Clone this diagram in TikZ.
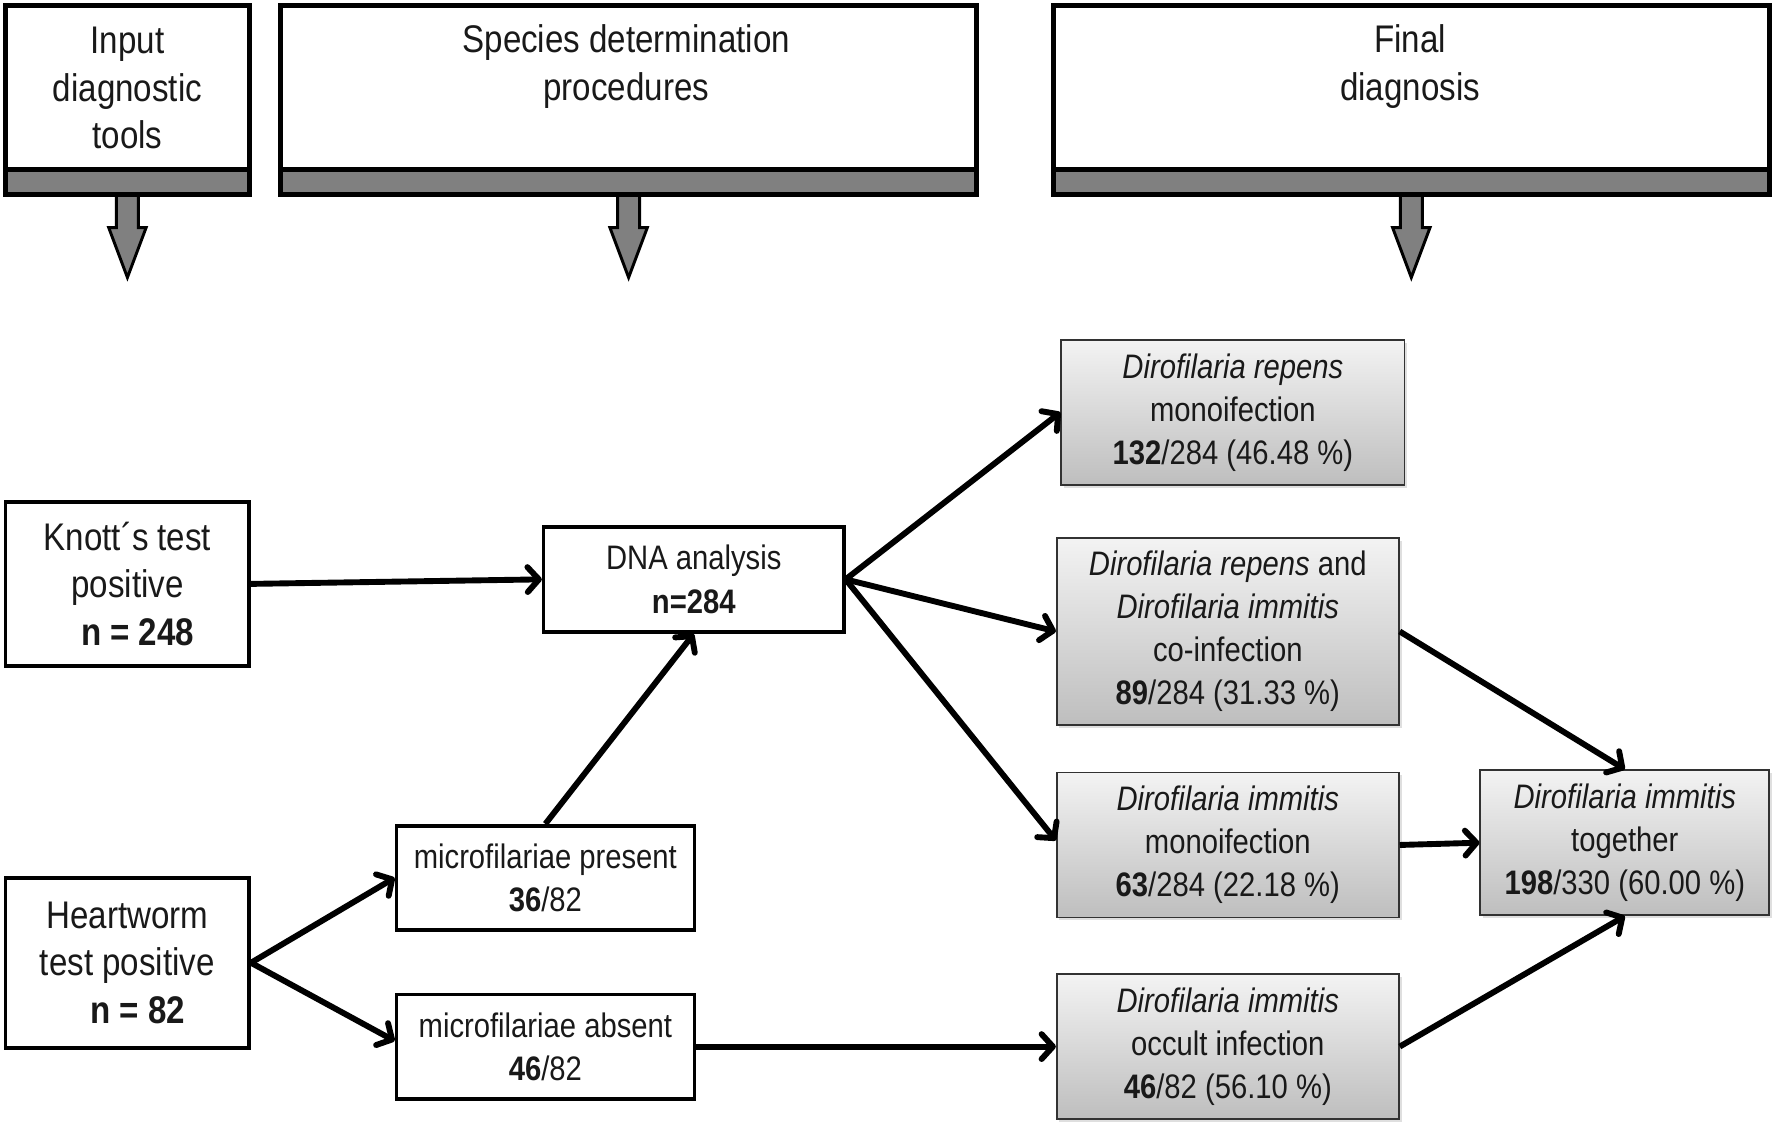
\documentclass[tikz,border=0pt]{standalone}
\usepackage{fontspec}
\setmainfont[FakeStretch=0.86]{Liberation Sans}
\usetikzlibrary{arrows.meta,shadows,calc}
\definecolor{txt}{RGB}{25,25,25}
\definecolor{barg}{RGB}{128,128,128}
\definecolor{gtop}{RGB}{243,243,243}
\definecolor{gbot}{RGB}{190,190,190}
\definecolor{gline}{RGB}{50,50,50}
\begin{document}
\begin{tikzpicture}[x=0.5pt,y=-0.5pt,
 hdr/.style={draw=black,line width=2.2pt,fill=white,inner sep=0pt},
 hbar/.style={draw=black,line width=2.2pt,fill=barg,inner sep=0pt,minimum height=11pt},
 barrow/.style={draw=black,line width=1.3pt,fill=barg,line join=miter},
 htext/.style={font=\fontsize{17}{21}\selectfont,text=txt,align=center,inner sep=0pt},
 wbox/.style={draw=black,line width=1.6pt,fill=white,inner sep=0pt,align=center,text=txt},
 big/.style={font=\fontsize{17}{21}\selectfont},
 mid/.style={font=\fontsize{15}{19}\selectfont},
 gbox/.style={draw=gline,line width=0.8pt,top color=gtop,bottom color=gbot,inner sep=0pt,align=center,text=txt,font=\fontsize{15}{19}\selectfont,drop shadow={opacity=0.25,shadow xshift=1.2pt,shadow yshift=-1.2pt}},
 conn/.style={line width=2.6pt,-{Straight Barb[length=5pt,width=11pt,round]}},
]
\useasboundingbox (0,0) rectangle (1568,1001);

% header boxes
\node[hdr,minimum width=107.5pt,minimum height=72.5pt] (h1) at (112.5,77.5) {};
\node[hdr,minimum width=307pt,minimum height=72.5pt] (h2) at (555,77.5) {};
\node[hdr,minimum width=316pt,minimum height=72.5pt] (h3) at (1246,77.5) {};

\coordinate (s1) at (112.5,172);
\coordinate (s2) at (555,172);
\coordinate (s3) at (1246,172);
\draw[barrow] ($(s1)+(-9.7,0)$) -- ++(0,29) -- ++(-6.8,0) -- ($(s1)+(0,73)$) -- ($(s1)+(16.5,29)$) -- ++(-6.8,0) -- ($(s1)+(9.7,0)$) -- cycle;
\draw[barrow] ($(s2)+(-9.7,0)$) -- ++(0,29) -- ++(-6.8,0) -- ($(s2)+(0,73)$) -- ($(s2)+(16.5,29)$) -- ++(-6.8,0) -- ($(s2)+(9.7,0)$) -- cycle;
\draw[barrow] ($(s3)+(-9.7,0)$) -- ++(0,29) -- ++(-6.8,0) -- ($(s3)+(0,73)$) -- ($(s3)+(16.5,29)$) -- ++(-6.8,0) -- ($(s3)+(9.7,0)$) -- cycle;

\node[hbar,minimum width=107.5pt] (b1) at (112.5,161) {};
\node[hbar,minimum width=307pt] (b2) at (555,161) {};
\node[hbar,minimum width=316pt] (b3) at (1246,161) {};

\node[htext] (t1) at (112.5,78) {Input\\diagnostic\\tools};
\node[htext] (t2) at (553,59) {Species determination\\procedures};
\node[htext] (t3) at (1245,59) {Final\\diagnosis};

% left boxes
\node[wbox,big,minimum width=107.5pt,minimum height=72.5pt] (knott) at (112.5,515.5)
  {Knott´s test\\positive\\\hspace*{9pt}\textbf{n = 248}};
\node[wbox,big,minimum width=107.5pt,minimum height=75pt] (heart) at (112.5,850)
  {Heartworm\\test positive\\\hspace*{9pt}\textbf{n = 82}};

% middle boxes
\node[wbox,mid,minimum width=132.5pt,minimum height=46.5pt] (dna) at (612.5,511.5)
  {DNA analysis\\\textbf{n=284}};
\node[wbox,mid,minimum width=131.5pt,minimum height=46pt] (pres) at (481.5,775)
  {microfilariae present\\\textbf{36}/82};
\node[wbox,mid,minimum width=131.5pt,minimum height=46pt] (abs) at (481.5,924)
  {microfilariae absent\\\textbf{46}/82};

% result boxes
\node[gbox,minimum width=151.5pt,minimum height=64pt] (rep) at (1088.5,364)
  {\textit{Dirofilaria repens}\\monoifection\\\textbf{132}/284 (46.48 \%)};
\node[gbox,minimum width=151pt,minimum height=82.5pt] (coinf) at (1084,557.5)
  {\textit{Dirofilaria repens} and\\\textit{Dirofilaria immitis}\\co-infection\\\textbf{89}/284 (31.33 \%)};
\node[gbox,minimum width=151pt,minimum height=64pt] (imm) at (1084,746)
  {\textit{Dirofilaria immitis}\\monoifection\\\textbf{63}/284 (22.18 \%)};
\node[gbox,minimum width=151pt,minimum height=64pt] (occ) at (1084,924)
  {\textit{Dirofilaria immitis}\\occult infection\\\textbf{46}/82 (56.10 \%)};
\node[gbox,minimum width=127.5pt,minimum height=64pt] (tog) at (1434.5,744)
  {\textit{Dirofilaria immitis}\\together\\\textbf{198}/330 (60.00 \%)};

% connectors
\draw[conn] (knott.east) -- (dna.west);
\draw[conn] (heart.east) -- (pres.west);
\draw[conn] (heart.east) -- ($(abs.west)+(0,-5)$);
\draw[conn] (pres.north) -- (dna.south);
\draw[conn] (abs.east) -- (occ.west);
\draw[conn] (dna.east) -- (rep.west);
\draw[conn] (dna.east) -- (coinf.west);
\draw[conn] (dna.east) -- ($(imm.west)+(0,-4)$);
\draw[conn] (coinf.east) -- (tog.north);
\draw[conn] (imm.east) -- (tog.west);
\draw[conn] (occ.east) -- (tog.south);
\end{tikzpicture}
\end{document}
